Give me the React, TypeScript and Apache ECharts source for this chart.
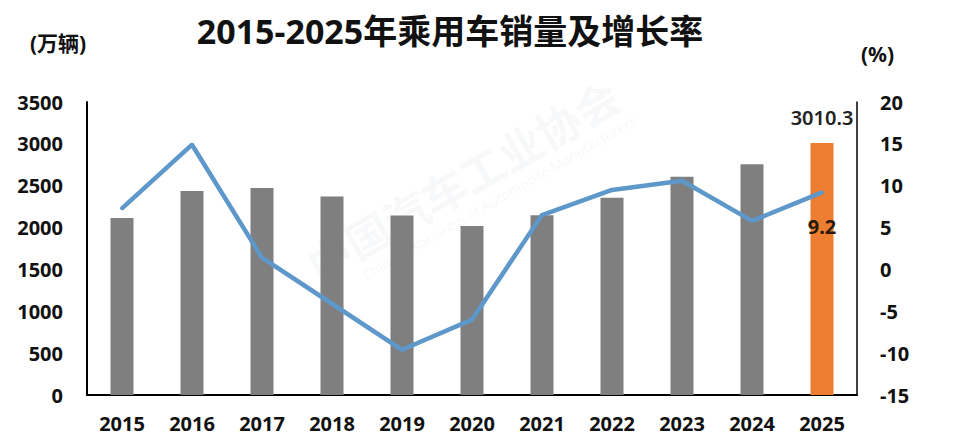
import React, { useEffect, useRef } from "react";
import * as echarts from "echarts";

const years = ["2015", "2016", "2017", "2018", "2019", "2020", "2021", "2022", "2023", "2024", "2025"];
const sales = [2114.6, 2437.7, 2471.8, 2371.0, 2144.4, 2017.8, 2148.2, 2356.3, 2606.3, 2756.3, 3010.3];
const growth = [7.3, 14.9, 1.4, -4.1, -9.6, -6.0, 6.5, 9.5, 10.6, 5.8, 9.2];
const leftTicks = { min: 0, max: 3500, interval: 500 };
const rightTicks = { min: -15, max: 20, interval: 5 };
const titleText = "2015-2025年乘用车销量及增长率";
const leftUnit = "(万辆)";
const rightUnit = "(%)";

export default function App() {
  const ref = useRef<HTMLDivElement>(null);
  useEffect(() => {
    if (!ref.current) return;
    const chart = echarts.init(ref.current, null, { renderer: "svg" });
    const font = "'Noto Sans', 'Noto Sans CJK SC', sans-serif";
    const last = years.length - 1;
    const lineColor = "#5E97C9";
    chart.setOption({
      animation: false,
      backgroundColor: "#ffffff",
      textStyle: { fontFamily: font },
      title: {
        text: titleText,
        left: 445,
        textAlign: "center",
        top: 9,
        textStyle: { fontSize: 34, fontWeight: "bold", color: "#111", fontFamily: font },
      },
      graphic: [
        {
          type: "text",
          left: 30,
          top: 32,
          style: { text: leftUnit, font: `bold 21px ${font}`, fill: "#111" },
        },
        {
          type: "text",
          left: 861,
          top: 43,
          style: { text: rightUnit, font: `bold 21px ${font}`, fill: "#111" },
        },
        {
          type: "text",
          x: 300,
          y: 250,
          rotation: Math.PI / 6,
          style: { text: "中国汽车工业协会", font: `bold 44px ${font}`, fill: "rgba(120,150,190,0.08)" },
          z: -1,
        },
        {
          type: "text",
          x: 360,
          y: 270,
          rotation: Math.PI / 6,
          style: { text: "China Association of Automobile Manufacturers", font: `14px ${font}`, fill: "rgba(120,150,190,0.08)" },
          z: -1,
        },
      ],
      grid: { left: 87, right: 119, top: 102, bottom: 40 },
      xAxis: {
        type: "category",
        data: years,
        axisLine: { show: true, lineStyle: { color: "#000", width: 2 } },
        axisTick: { show: false },
        axisLabel: { fontSize: 20, fontWeight: "bold", color: "#111", margin: 18, fontFamily: font },
      },
      yAxis: [
        {
          type: "value",
          min: leftTicks.min,
          max: leftTicks.max,
          interval: leftTicks.interval,
          position: "left",
          axisLine: { show: true, lineStyle: { color: "#000", width: 2 } },
          axisTick: { show: false },
          splitLine: { show: false },
          axisLabel: {
            fontSize: 20,
            fontWeight: "bold",
            color: "#111",
            margin: 24,
            fontFamily: font,
            formatter: (v: number) => String(v),
          },
        },
        {
          type: "value",
          min: rightTicks.min,
          max: rightTicks.max,
          interval: rightTicks.interval,
          position: "right",
          axisLine: { show: true, lineStyle: { color: "#000", width: 1.5 } },
          axisTick: { show: false },
          splitLine: { show: false },
          axisLabel: {
            fontSize: 20,
            fontWeight: "bold",
            color: "#111",
            margin: 23,
            fontFamily: font,
            formatter: (v: number) => String(v),
          },
        },
      ],
      series: [
        {
          type: "bar",
          yAxisIndex: 0,
          barWidth: 23,
          data: sales.map((v, i) =>
            i === last
              ? {
                  value: v,
                  itemStyle: { color: "#ED7D31" },
                  label: {
                    show: true,
                    position: "top",
                    distance: 16,
                    formatter: "{c}",
                    fontSize: 20,
                    fontWeight: 600,
                    color: "#222",
                    fontFamily: font,
                  },
                }
              : { value: v, itemStyle: { color: "#7F7F7F" } }
          ),
          z: 2,
        },
        {
          type: "line",
          yAxisIndex: 1,
          data: growth.map((v, i) =>
            i === last
              ? {
                  value: v,
                  label: {
                    show: true,
                    position: "bottom",
                    distance: 22,
                    formatter: "{c}",
                    fontSize: 20,
                    fontWeight: "bold",
                    color: "#2a1a0a",
                    fontFamily: font,
                  },
                }
              : v
          ),
          symbol: "circle",
          showSymbol: true,
          symbolSize: 4,
          itemStyle: { color: lineColor },
          lineStyle: { color: lineColor, width: 4.5 },
          z: 3,
        },
      ],
    });
    return () => chart.dispose();
  }, []);
  return (
    <div
      ref={ref}
      style={{ position: "fixed", left: 0, top: 0, width: 976, height: 435 }}
    />
  );
}
